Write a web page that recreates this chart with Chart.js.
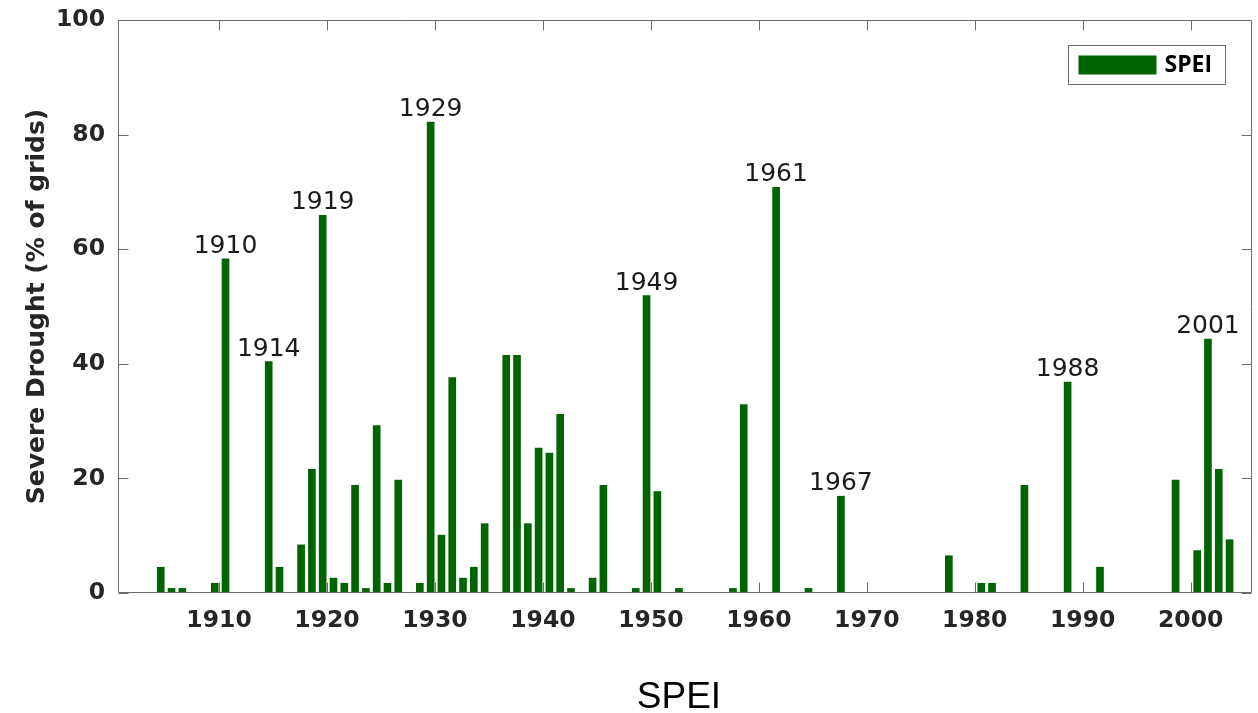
<!DOCTYPE html>
<html>
<head>
<meta charset="utf-8">
<script src="https://cdn.jsdelivr.net/npm/chart.js@4.4.0/dist/chart.umd.min.js"></script>
<style>
  html, body { margin: 0; padding: 0; background: #fff; }
  #wrap { position: relative; width: 1258px; height: 713px; }
  #caption {
    position: absolute; left: 579px; top: 676px; width: 200px;
    text-align: center; font: 37px "Liberation Sans", Arial, sans-serif;
    line-height: 40px; color: #000;
  }
</style>
</head>
<body>
<div id="wrap">
  <canvas id="droughtChart" width="1258" height="713"></canvas>
  <div id="caption">SPEI</div>
</div>
<script>
// years with severe drought and % of grids affected
const years = [1904, 1905, 1906, 1909, 1910, 1914, 1915, 1917, 1918, 1919,
  1920, 1921, 1922, 1923, 1924, 1925, 1926, 1928, 1929, 1930,
  1931, 1932, 1933, 1934, 1936, 1937, 1938, 1939, 1940, 1941,
  1942, 1944, 1945, 1948, 1949, 1950, 1952, 1957, 1958, 1961,
  1964, 1967, 1977, 1980, 1981, 1984, 1988, 1991, 1998, 2000,
  2001, 2002, 2003];
const severe = [4.5, 0.8, 0.8, 1.7, 58.3, 40.4, 4.5, 8.4, 21.6, 65.9,
  2.6, 1.7, 18.8, 0.8, 29.2, 1.7, 19.7, 1.7, 82.2, 10.1,
  37.6, 2.6, 4.5, 12.1, 41.5, 41.5, 12.1, 25.3, 24.4, 31.2,
  0.8, 2.6, 18.8, 0.8, 51.9, 17.7, 0.8, 0.8, 32.9, 70.8,
  0.8, 16.9, 6.5, 1.7, 1.7, 18.8, 36.8, 4.5, 19.7, 7.4,
  44.3, 21.6, 9.3];
const labelledYears = [1910, 1914, 1919, 1929, 1949, 1961, 1967, 1988, 2001];
const xTicks = [1910, 1920, 1930, 1940, 1950, 1960, 1970, 1980, 1990, 2000];
const yTicks = [0, 20, 40, 60, 80, 100];

// bars in the original sit a little right of the year tick
const barShift = 0.6;
const barColor = "#006400";
const axisColor = "#6a6a6a";
const tickFont = { family: "'DejaVu Sans', sans-serif", size: 23.5, weight: "bold" };

const framePlugin = {
  id: "frame",
  afterDatasetsDraw(chart) {
    const { ctx, chartArea: a, scales } = chart;
    const L = Math.round(a.left) + 0.5, R = Math.round(a.right) - 0.5;
    const T = Math.round(a.top) + 0.5, B = Math.round(a.bottom) - 0.5;
    ctx.save();
    ctx.strokeStyle = axisColor;
    ctx.lineWidth = 1;
    ctx.beginPath();
    ctx.rect(L, T, R - L, B - T);
    scales.x.ticks.forEach(t => {
      const px = Math.round(scales.x.getPixelForValue(t.value)) + 0.5;
      ctx.moveTo(px, B); ctx.lineTo(px, B - 10);
      ctx.moveTo(px, T); ctx.lineTo(px, T + 10);
    });
    scales.y.ticks.forEach(t => {
      const py = Math.round(scales.y.getPixelForValue(t.value)) + 0.5;
      ctx.moveTo(L, py); ctx.lineTo(L + 10, py);
      ctx.moveTo(R, py); ctx.lineTo(R - 10, py);
    });
    ctx.stroke();
    ctx.restore();
  }
};

const peakLabels = {
  id: "peakLabels",
  afterDatasetsDraw(chart) {
    const { ctx } = chart;
    const meta = chart.getDatasetMeta(0);
    ctx.save();
    ctx.font = "25px 'DejaVu Sans', sans-serif";
    ctx.fillStyle = "#1a1a1a";
    ctx.textAlign = "center";
    ctx.textBaseline = "alphabetic";
    years.forEach((yr, i) => {
      if (!labelledYears.includes(yr)) return;
      const bar = meta.data[i];
      ctx.fillText(String(yr), bar.x, bar.y - 6);
    });
    ctx.restore();
  }
};

const boxLegend = {
  id: "boxLegend",
  afterDraw(chart) {
    const { ctx, chartArea: a } = chart;
    const ds = chart.data.datasets[0];
    const bx = Math.round(a.right) - 183.5, by = Math.round(a.top) + 25.5;
    ctx.save();
    ctx.fillStyle = "#fff";
    ctx.fillRect(bx, by, 157, 39);
    ctx.strokeStyle = axisColor;
    ctx.lineWidth = 1;
    ctx.strokeRect(bx, by, 157, 39);
    ctx.fillStyle = ds.backgroundColor;
    ctx.fillRect(bx + 10, by + 10, 78, 19);
    ctx.fillStyle = "#000";
    ctx.font = "bold 23px 'Open Sans', sans-serif";
    ctx.textBaseline = "middle";
    ctx.fillText(ds.label, bx + 96, by + 20);
    ctx.restore();
  }
};

const ctx = document.getElementById("droughtChart").getContext("2d");
const chart = new Chart(ctx, {
  type: "bar",
  data: {
    datasets: [{
      label: "SPEI",
      data: years.map((yr, i) => ({ x: yr + barShift, y: severe[i] })),
      backgroundColor: barColor,
      borderWidth: 0,
      barThickness: 7
    }]
  },
  options: {
    responsive: false,
    animation: false,
    layout: { padding: { top: 20, right: 6, left: 0, bottom: 0 } },
    plugins: {
      legend: { display: false },
      tooltip: { enabled: false }
    },
    scales: {
      x: {
        type: "linear",
        min: 1900.64,
        max: 2005.68,
        offset: false,
        grid: { display: false, drawTicks: false },
        border: { display: false },
        afterBuildTicks: s => { s.ticks = xTicks.map(v => ({ value: v })); },
        afterFit: s => { s.height = 120; s.paddingLeft = 0; s.paddingRight = 0; },
        ticks: {
          autoSkip: false,
          maxRotation: 0,
          padding: 14,
          color: "#262626",
          font: tickFont,
          callback: v => String(v)
        }
      },
      y: {
        min: 0,
        max: 100,
        grid: { display: false, drawTicks: false },
        border: { display: false },
        afterBuildTicks: s => { s.ticks = yTicks.map(v => ({ value: v })); },
        afterFit: s => { s.width = 118; s.paddingTop = 0; s.paddingBottom = 0; },
        ticks: {
          padding: 13,
          color: "#262626",
          font: tickFont
        },
        title: {
          display: true,
          text: "Severe Drought (% of grids)",
          color: "#262626",
          font: { family: "'DejaVu Sans', sans-serif", size: 25, weight: "bold" },
          padding: { top: 22, bottom: 0 }
        }
      }
    }
  },
  plugins: [framePlugin, peakLabels, boxLegend]
});
</script>
</body>
</html>
